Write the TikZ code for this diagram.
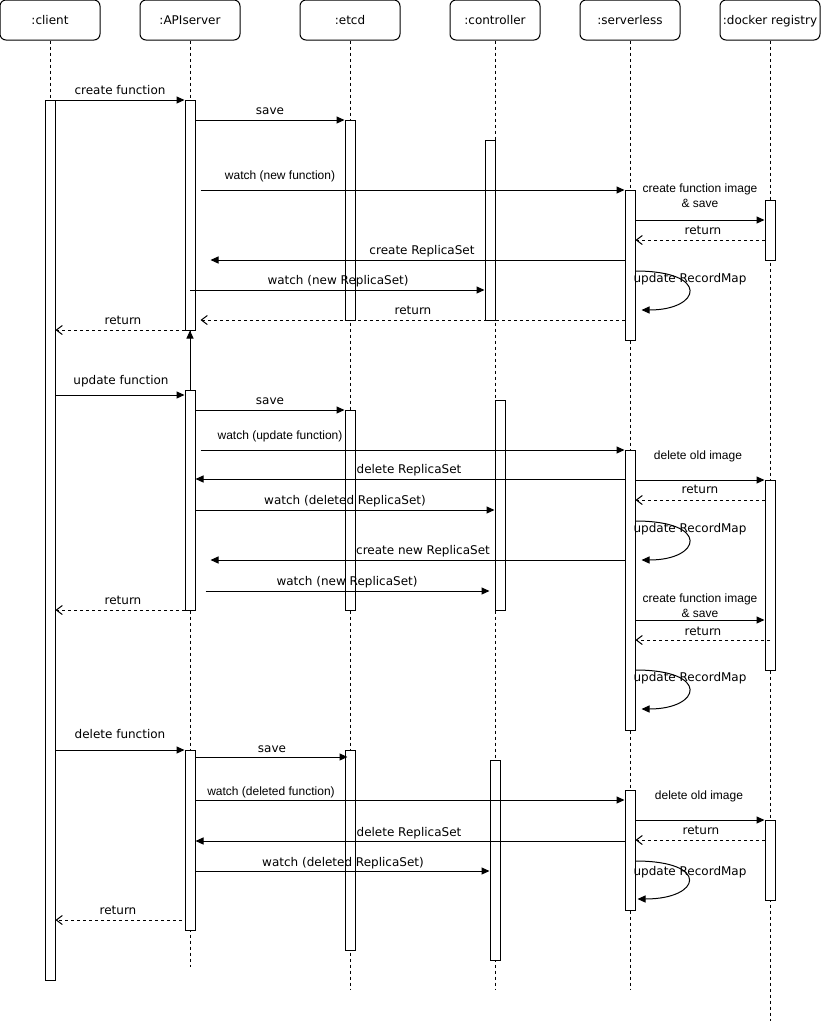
\documentclass[tikz,border=0pt]{standalone}
\usepackage{fontspec}
\setmainfont{DejaVu Sans}
\newfontfamily\libsans{Liberation Sans}
\usetikzlibrary{arrows.meta}
\newcommand\actbar[4]{\node[bar, minimum height={#4-#3}] (#1) at (#2,{(#3+#4)/2}) {};}
\begin{document}
\begin{tikzpicture}[x=1pt,y=-1pt,
  hdr/.style={draw, line width=1pt, rounded corners=6pt, minimum width=100pt, minimum height=40pt, inner sep=0pt, font=\fontsize{12}{14}\selectfont, text height=8pt, text depth=0pt},
  bar/.style={draw, fill=white, line width=1pt, minimum width=10pt, inner sep=0pt},
  life/.style={line width=1pt, dash pattern=on 3pt off 3pt},
  msg/.style={line width=1pt, -{Triangle[length=8pt,width=7pt]}},
  ret/.style={line width=1pt, dash pattern=on 3pt off 3pt, -{Straight Barb[length=6pt,width=9pt]}},
  lbl/.style={inner sep=0pt, font=\fontsize{12}{14}\selectfont, text height=8pt, text depth=0pt},
  lbla/.style={inner sep=0pt, font=\libsans\fontsize{12}{14}\selectfont, text height=8pt, text depth=0pt},
  lblb/.style={inner sep=0pt, font=\libsans\fontsize{12}{15}\selectfont, align=center},
]
\useasboundingbox (0,0) rectangle (821,1021);

% headers
\node[hdr] (client) at (50,20) {:client};
\node[hdr] (api) at (190,20) {:APIserver};
\node[hdr] (etcd) at (350,20) {:etcd};
\node[hdr, minimum width=90pt] (ctrl) at (495,20) {:controller};
\node[hdr] (svl) at (630,20) {:serverless};
\node[hdr] (dock) at (770,20) {:docker registry};

% lifeline ends
\coordinate (clientEnd) at (50,100);
\coordinate (apiEnd) at (190,967);
\coordinate (etcdEnd) at (350,990);
\coordinate (ctrlEnd) at (495,990);
\coordinate (svlEnd) at (630,990);
\coordinate (dockEnd) at (770,1021);

\draw[life] (client.south) -- (clientEnd);
\draw[life] (api.south) -- (apiEnd);
\draw[life] (etcd.south) -- (etcdEnd);
\draw[life] (ctrl.south) -- (ctrlEnd);
\draw[life] (svl.south) -- (svlEnd);
\draw[life] (dock.south) -- (dockEnd);

% activation bars
\actbar{cb}{50}{100}{980}
\actbar{ab1}{190}{100}{330}
\actbar{ab2}{190}{390}{610}
\actbar{ab3}{190}{750}{930}
\actbar{eb1}{350}{120}{320}
\actbar{eb2}{350}{410}{610}
\actbar{eb3}{350}{750}{950}
\actbar{kb1}{490}{140}{320}
\actbar{kb2}{500}{400}{610}
\actbar{kb3}{495}{760}{960}
\actbar{sb1}{630}{190}{340}
\actbar{sb2}{630}{450}{730}
\actbar{sb3}{630}{790}{910}
\actbar{db1}{770}{200}{260}
\actbar{db2}{770}{480}{670}
\actbar{db3}{770}{820}{900}

% ---- create ----
\draw[msg] (cb.east |- 0,100) -- (ab1.west |- 0,100);
\node[lbl] (t1) at (120,90) {create function};
\draw[msg] (ab1.east |- 0,120) -- (eb1.west |- 0,120);
\node[lbl] (t2) at (270,110) {save};
\draw[msg] ([xshift=5pt]ab1.east |- 0,190) -- (sb1.west |- 0,190);
\node[lbla] (t3) at (280,175) {watch (new function)};
\draw[msg] (sb1.east |- 0,220) -- (db1.west |- 0,220);
\node[lblb] (t4) at (700,196) {create function image\\\& save};
\draw[ret] (db1.west |- 0,240) -- (sb1.east |- 0,240);
\node[lbl] (t5) at (703,230) {return};
\draw[msg] (sb1.west |- 0,260) -- ([xshift=15pt]ab1.east |- 0,260);
\node[lbl] (t6) at (422,250) {create ReplicaSet};
\draw[msg] (ab1.center |- 0,290) -- (kb1.west |- 0,290);
\node[lbl] (t7) at (338,280) {watch (new ReplicaSet)};
\draw[msg] (sb1.east |- 0,271) .. controls +(75,0) and +(60,0) .. ([xshift=6pt]sb1.east |- 0,310);
\node[lbl] (t8) at (690,278) {update RecordMap};
\draw[ret] (sb1.west |- 0,320) -- ([xshift=5pt]ab1.east |- 0,320);
\node[lbl] (t9) at (413,310) {return};
\draw[ret] (ab1.west |- 0,330) -- (cb.east |- 0,330);
\node[lbl] (t10) at (123,320) {return};
\draw[msg] (ab2.north) -- (ab1.south);

% ---- update ----
\draw[msg] (cb.east |- 0,395) -- (ab2.west |- 0,395);
\node[lbl] (u1) at (121,380) {update function};
\draw[msg] (ab2.east |- 0,410) -- (eb2.west |- 0,410);
\node[lbl] (u2) at (270,400) {save};
\draw[msg] ([xshift=5pt]ab2.east |- 0,450) -- (sb2.west |- 0,450);
\node[lbla] (u3) at (280,435) {watch (update function)};
\draw[msg] (sb2.east |- 0,480) -- (db2.west |- 0,480);
\node[lbla] (u4) at (698,455) {delete old image};
\draw[msg] (sb2.west |- 0,479) -- (ab2.east |- 0,479);
\node[lbl] (u5) at (409,469) {delete ReplicaSet};
\draw[ret] (db2.west |- 0,500) -- (sb2.east |- 0,500);
\node[lbl] (u6) at (700,489) {return};
\draw[msg] (ab2.east |- 0,510) -- (kb2.west |- 0,510);
\node[lbl] (u7) at (345,500) {watch (deleted ReplicaSet)};
\draw[msg] (sb2.east |- 0,521) .. controls +(75,0) and +(60,0) .. ([xshift=6pt]sb2.east |- 0,560);
\node[lbl] (u8) at (690,528) {update RecordMap};
\draw[msg] (sb2.west |- 0,560) -- ([xshift=15pt]ab2.east |- 0,560);
\node[lbl] (u9) at (423,550) {create new ReplicaSet};
\draw[msg] ([xshift=10pt]ab2.east |- 0,591) -- ([xshift=-5pt]kb2.west |- 0,591);
\node[lbl] (u10) at (347,581) {watch (new ReplicaSet)};
\draw[ret] (ab2.west |- 0,610) -- (cb.east |- 0,610);
\node[lbl] (u11) at (123,600) {return};
\draw[msg] (sb2.east |- 0,620) -- (db2.west |- 0,620);
\node[lblb] (u12) at (700,606) {create function image\\\& save};
\draw[ret] (db2.center |- 0,640) -- (sb2.east |- 0,640);
\node[lbl] (u13) at (703,631) {return};
\draw[msg] (sb2.east |- 0,670) .. controls +(75,0) and +(60,0) .. ([xshift=6pt]sb2.east |- 0,709);
\node[lbl] (u14) at (690,677) {update RecordMap};

% ---- delete ----
\draw[msg] (cb.east |- 0,750) -- (ab3.west |- 0,750);
\node[lbl] (d1) at (120,734) {delete function};
\draw[msg] (ab3.east |- 0,757) -- ([xshift=3pt]eb3.west |- 0,757);
\node[lbl] (d2) at (272,748) {save};
\draw[msg] (ab3.east |- 0,800) -- (sb3.west |- 0,800);
\node[lbla] (d3) at (271,791) {watch (deleted function)};
\draw[msg] (sb3.east |- 0,820) -- (db3.west |- 0,820);
\node[lbla] (d4) at (699,795) {delete old image};
\draw[msg] (sb3.west |- 0,841) -- (ab3.east |- 0,841);
\node[lbl] (d5) at (409,832) {delete ReplicaSet};
\draw[ret] (db3.west |- 0,840) -- (sb3.east |- 0,840);
\node[lbl] (d6) at (701,830) {return};
\draw[msg] (ab3.east |- 0,871) -- (kb3.west |- 0,871);
\node[lbl] (d7) at (343,862) {watch (deleted ReplicaSet)};
\draw[msg] (sb3.east |- 0,861) .. controls +(75,0) and +(64,0) .. ([xshift=2pt]sb3.east |- 0,899);
\node[lbl] (d8) at (690,871) {update RecordMap};
\draw[ret] ([xshift=-3pt]ab3.west |- 0,920) -- (cb.east |- 0,920);
\node[lbl] (d9) at (118,910) {return};
\end{tikzpicture}
\end{document}
